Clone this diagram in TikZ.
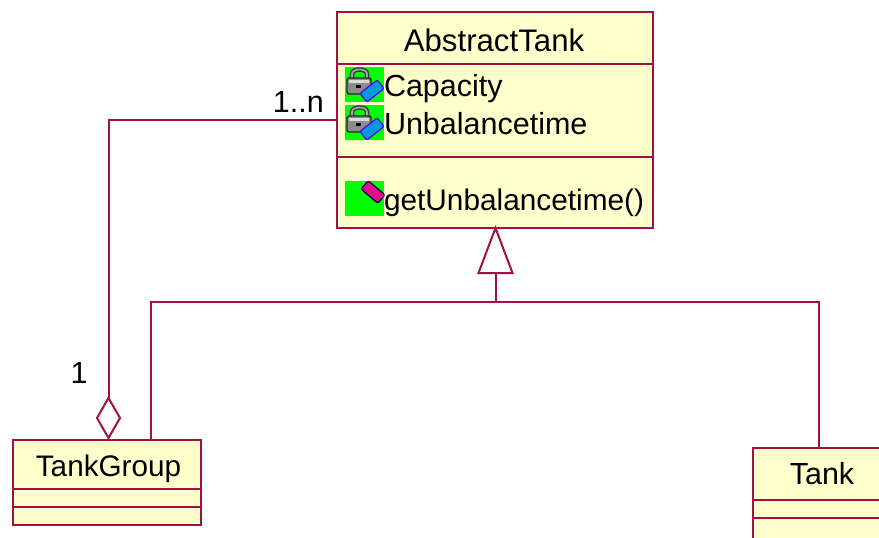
\documentclass[tikz,border=0pt]{standalone}
\usepackage{fontspec}
\setmainfont{Liberation Sans}
\usepackage{tikz}
\usetikzlibrary{shapes, calc, positioning}
\definecolor{umlline}{HTML}{A00F45}
\definecolor{umlfill}{HTML}{FFFFCC}

\tikzset{
  pics/lockmark/.style={code={
    % shackle, body and key of the private marker
    \draw[line width=4.6pt, black!75] (7,11) -- (7,7) .. controls (7,1) and (22,1) .. (22,7) -- (22,11);
    \draw[line width=1.6pt, black!35] (7,11) -- (7,7) .. controls (7,1) and (22,1) .. (22,7) -- (22,11);
    \draw[fill=black!45, draw=black!85, line width=1.4pt, rounded corners=2pt] (2,11) rectangle (26,27);
    \fill[black!15] (4,13) rectangle (24,16);
    \fill[black] (11,18) rectangle (16,21);
    \draw[shift={(27,24)}, rotate=38, fill=cyan!85!blue, draw=blue!70!magenta, line width=1.2pt, rounded corners=2pt] (-11,-5.5) rectangle (11,5.5);
  }},
  pics/opmark/.style={code={
    \draw[shift={(28,11)}, rotate=-40, fill=magenta!90!violet, draw=blue!40!black, line width=1.2pt, rounded corners=2pt] (-11,-5.5) rectangle (11,5.5);
  }}
}

\begin{document}
\begin{tikzpicture}[
    x=1pt, y=-1pt,
    every node/.style={font=\fontsize{30.5}{36}\selectfont, text=black},
    classbox/.style={rectangle, draw=umlline, fill=umlfill, line width=2.3pt, anchor=north west, inner sep=0pt, outer sep=0pt},
    link/.style={draw=umlline, line width=2pt},
    iconbox/.style={rectangle, fill=green, anchor=north west, inner sep=0pt, outer sep=0pt, minimum width=39pt, minimum height=35pt},
    member/.style={inner sep=0pt, outer sep=0pt, text height=23pt, text depth=0pt},
    aggdiamond/.style={diamond, draw=umlline, fill=white, line width=2pt, inner sep=0pt, outer sep=0pt, minimum width=23pt, minimum height=40pt, aspect=0.6},
    gentriangle/.style={isosceles triangle, isosceles triangle apex angle=41, shape border rotate=90, draw=umlline, fill=white, line width=2pt, inner sep=0pt, outer sep=0pt, minimum width=34pt, minimum height=45pt, isosceles triangle stretches}
  ]
  \clip (0,0) rectangle (879,538);
  \fill[white] (0,0) rectangle (879,538);

  % Classes
  \node[classbox, minimum width=316pt, minimum height=216pt] (abstracttank) at (337,12) {};
  \node[classbox, minimum width=188pt, minimum height=85pt] (tankgroup) at (13,440) {};
  \node[classbox, minimum width=138pt, minimum height=110pt] (tank) at (753,448) {};

  % Compartment lines
  \draw[link] (abstracttank.west |- 0,64) -- (abstracttank.east |- 0,64);
  \draw[link] (abstracttank.west |- 0,157) -- (abstracttank.east |- 0,157);
  \draw[link] (tankgroup.west |- 0,489) -- (tankgroup.east |- 0,489);
  \draw[link] (tankgroup.west |- 0,507) -- (tankgroup.east |- 0,507);
  \draw[link] (tank.west |- 0,500) -- (tank.east |- 0,500);
  \draw[link] (tank.west |- 0,518) -- (tank.east |- 0,518);

  % Class names
  \node[anchor=base, inner sep=0pt, font=\fontsize{31.2}{36}\selectfont] (abstracttankname) at (494,51) {AbstractTank};
  \node[anchor=base, inner sep=0pt, font=\fontsize{29.7}{36}\selectfont] (tankgroupname) at (108.5,476) {TankGroup};
  \node[anchor=base, inner sep=0pt] (tankname) at (822,484) {Tank};

  % Members
  \node[iconbox] (capacityicon) at (345,67) {};
  \node[iconbox] (unbalanceicon) at (345,105) {};
  \node[iconbox] (geticon) at (345,181) {};
  \pic at (capacityicon.north west) {lockmark};
  \pic at (unbalanceicon.north west) {lockmark};
  \pic at (geticon.north west) {opmark};
  \node[member, right=0pt of capacityicon] (capacity) {Capacity};
  \node[member, right=0pt of unbalanceicon] (unbalancetime) {Unbalancetime};
  \node[member, right=0pt of geticon, font=\fontsize{29.8}{36}\selectfont] (getunbalancetime) {getUnbalancetime()};

  % Aggregation
  \node[aggdiamond] (aggend) at (108.5,418) {};
  \draw[link] (abstracttank.west |- 0,120) -- (aggend.north |- 0,120) -- (aggend.north);
  \node[anchor=base east, inner sep=0pt] (manylabel) at (324,112) {1..n};
  \node[anchor=base, inner sep=0pt] (onelabel) at (79,383) {1};

  % Generalization
  \node[gentriangle, anchor=apex] (genend) at (abstracttank.south -| 495.5,0) {};
  \coordinate (genjoin) at (495.5,302);
  \draw[link] (genend.lower side) -- (genjoin);
  \draw[link] (genjoin) -- (151,302) -- (tankgroup.north -| 151,0);
  \draw[link] (genjoin) -- (819,302) -- (tank.north -| 819,0);
\end{tikzpicture}
\end{document}
